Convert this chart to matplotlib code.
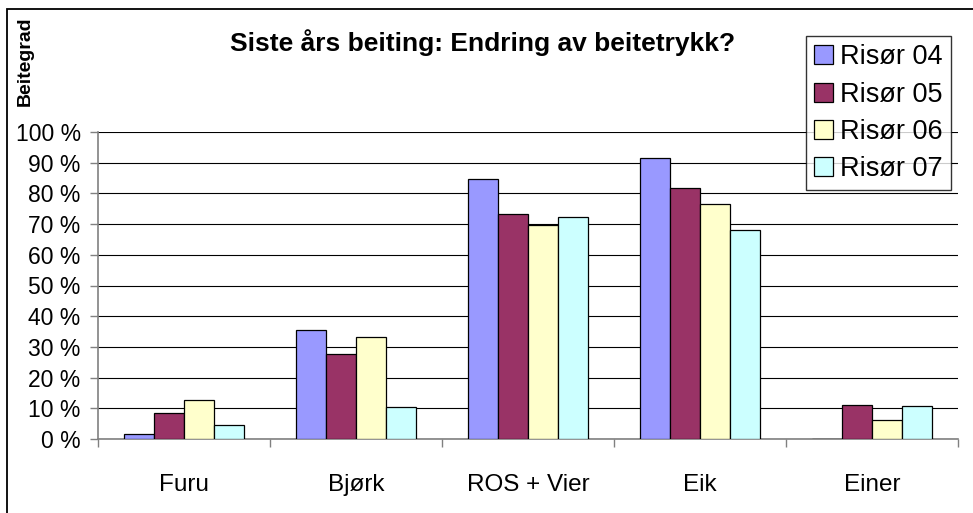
"""
beitegrad.py
siste års beiting per treslag, Risør 04-07
"""
import numpy as np
import matplotlib
matplotlib.use("Agg")
import matplotlib.pyplot as plt
from matplotlib.patches import Rectangle
from matplotlib.ticker import FuncFormatter, FixedLocator

plt.rcParams["font.family"] = ["Liberation Sans", "DejaVu Sans"]

categories = ["Furu", "Bjørk", "ROS + Vier", "Eik", "Einer"]
series = ["Risør 04", "Risør 05", "Risør 06", "Risør 07"]
risor_04 = [1.6, 35.4, 84.8, 91.6, 0.0]
risor_05 = [8.6, 27.8, 73.3, 81.7, 11.1]
risor_06 = [12.8, 33.3, 69.8, 76.4, 6.3]
risor_07 = [4.6, 10.3, 72.3, 68.0, 10.6]
values = [risor_04, risor_05, risor_06, risor_07]
colors = ["#9999FF", "#993366", "#FFFFCC", "#CCFFFF"]

W, H = 973, 513
fig = plt.figure(figsize=(W / 100, H / 100), dpi=100)
ax = fig.add_axes([98 / W, 1 - 439 / H, (958 - 98) / W, (439 - 132) / H])

x = np.arange(len(categories))
bw = 0.1744
for i, (name, vals) in enumerate(zip(series, values)):
    ax.bar(x + (i - 1.5) * bw, vals, width=bw, color=colors[i],
           edgecolor="black", linewidth=0.9, label=name, zorder=3)

ax.set_xlim(-0.5, len(categories) - 0.5)
ax.set_ylim(0, 100)
ax.set_yticks(np.arange(0, 101, 10))
ax.yaxis.set_major_formatter(FuncFormatter(lambda v, p: f"{v:.0f} %"))
ax.yaxis.grid(True, color="black", linewidth=0.8, zorder=0)
ax.set_xticks(x)
ax.set_xticklabels(categories)
ax.xaxis.set_minor_locator(FixedLocator(np.arange(-0.5, len(categories), 1.0)))
ax.tick_params(axis="x", which="major", length=0, pad=25, labelsize=17.5)
ax.tick_params(axis="x", which="minor", length=5.5, width=1, color="#808080")
ax.tick_params(axis="y", length=5.5, width=1, color="#808080", labelsize=16.5, pad=7)

for side in ["top", "right"]:
    ax.spines[side].set_visible(False)
for side in ["left", "bottom"]:
    ax.spines[side].set_color("#808080")
    ax.spines[side].set_linewidth(1.2)

fig.text(483 / W, 1 - 43 / H, "Siste års beiting: Endring av beitetrykk?",
         ha="center", va="center", fontsize=19, fontweight="bold")
fig.text(25 / W, 1 - 61 / H, "Beitegrad", rotation=90, ha="center",
         va="center", fontsize=14, fontweight="bold")

leg = fig.legend(loc="upper left", bbox_to_anchor=(806 / W, 1 - 36 / H),
                 fontsize=19.5, frameon=True, fancybox=False, shadow=False,
                 handlelength=0.7, handleheight=0.7, handletextpad=0.25,
                 labelspacing=0.42, borderpad=0.3, borderaxespad=0)
leg.get_frame().set_edgecolor("black")
leg.get_frame().set_linewidth(1.0)

fig.patches.append(Rectangle((7 / W, -0.1), 1.2, 1 - 9 / H + 0.1,
                             transform=fig.transFigure, fill=False,
                             edgecolor="black", linewidth=1.3))

fig.savefig("out.png", dpi=100)
